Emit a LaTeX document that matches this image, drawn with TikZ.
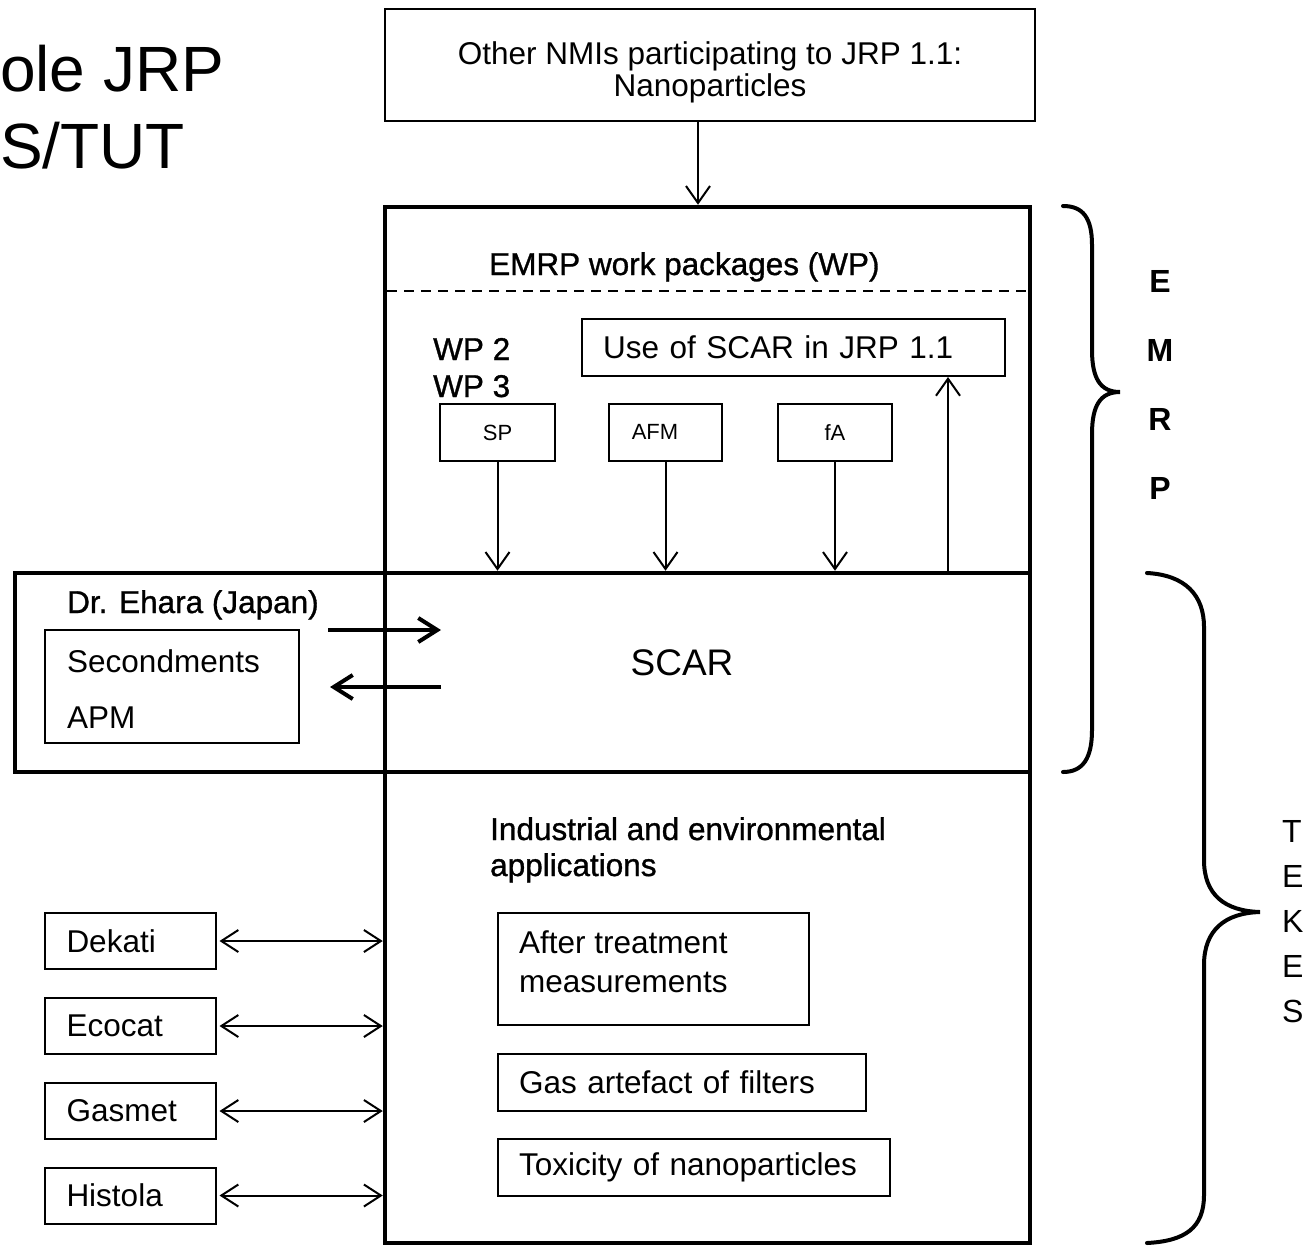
\documentclass[tikz,border=0pt]{standalone}
\usepackage{fontspec}
\setmainfont{Liberation Sans}
\newfontfamily\heavyfont[FakeBold=1]{Liberation Sans}
\usetikzlibrary{arrows.meta}
\begin{document}
\begin{tikzpicture}[x=1pt,y=-1pt,
  thinbox/.style={draw,line width=2pt,inner sep=0pt},
  thickbox/.style={draw,line width=4.5pt,inner sep=0pt},
  body/.style={font=\fontsize{31.5}{37}\selectfont},
  heavy/.style={font=\heavyfont\fontsize{31.5}{37}\selectfont},
  lbl/.style={inner sep=0pt,anchor=base west},
  leftbox/.style={thinbox,body,align=left,text width=#1,inner xsep=21pt},
  arr/.style={line width=2pt,-{Straight Barb[length=17pt,width=24pt,line width=2pt]}},
  dblarr/.style={line width=2pt,{Straight Barb[length=17pt,width=22pt,line width=2pt]}-{Straight Barb[length=17pt,width=22pt,line width=2pt]}},
  fatarr/.style={line width=4.5pt,-{Straight Barb[length=19pt,width=24pt,line width=4pt]}},
  brace/.style={line width=4pt,line cap=round}
]
\useasboundingbox (0,0) rectangle (1308,1253);

% title
\node[lbl,font=\fontsize{64}{77}\selectfont] (t1) at (0,91) {ole JRP};
\node[lbl,font=\fontsize{64}{77}\selectfont] (t2) at (0,168) {S/TUT};

% top box
\node[thinbox,minimum width=650pt,minimum height=112pt] (nmi) at (710,65) {};
\node[inner sep=0pt,body,align=center] (nmit) at (710,72)
  {Other NMIs participating to JRP 1.1:\\[-5pt]Nanoparticles};

% main box
\node[thickbox,minimum width=645pt,minimum height=1036pt] (main) at (707.5,725) {};
\draw[arr] ([xshift=-12pt]nmi.south) -- ([xshift=-12pt]nmi.south |- main.north);

% dashed separator
\draw[line width=2pt,dash pattern=on 10pt off 7pt] (387,291) -- (1028,291);
\node[lbl,heavy] (emrpwp) at (489,275) {EMRP work packages (WP)};
\node[lbl,heavy] (wp2) at (433,360) {WP 2};
\node[lbl,heavy] (wp3) at (433,397) {WP 3};

\node[leftbox=381pt,minimum width=423pt,minimum height=57pt] (use) at (793.5,347.5) {Use of SCAR in JRP 1.1};

\node[thinbox,font=\fontsize{22}{26}\selectfont,minimum width=115pt,minimum height=57pt] (sp) at (497.5,432.5) {SP};
\node[thinbox,minimum width=113pt,minimum height=57pt] (afm) at (665.5,432.5) {};
\node[inner sep=0pt,font=\fontsize{22}{26}\selectfont] (afmt) at (655,432) {AFM};
\node[thinbox,font=\fontsize{22}{26}\selectfont,minimum width=114pt,minimum height=57pt] (fa) at (835,432.5) {fA};

% SCAR band
\node[thickbox,minimum width=1015pt,minimum height=199pt] (band) at (522.5,672.5) {};
\node[inner sep=0pt,font=\fontsize{37}{44}\selectfont] (scar) at (682,663) {SCAR};

\draw[arr] (sp.south) -- (sp.south |- band.north);
\draw[arr] (afm.south) -- (afm.south |- band.north);
\draw[arr] (fa.south) -- (fa.south |- band.north);
\coordinate (upx) at (948,0);
\draw[arr] (upx |- band.north) -- (upx |- use.south);

% Dr. Ehara
\node[lbl,heavy] (ehara) at (67,613) {Dr. Ehara (Japan)};
\node[thinbox,minimum width=254pt,minimum height=113pt] (sec) at (172,686.5) {};
\node[lbl,body] (sect) at (67,672) {Secondments};
\node[lbl,body] (apmt) at (67,728) {APM};
\coordinate (ea1) at (328,630);
\coordinate (eb1) at (441,630);
\coordinate (ea2) at (441,687);
\coordinate (eb2) at (330,687);
\draw[fatarr] (ea1) -- (eb1);
\draw[fatarr] (ea2) -- (eb2);

% applications
\node[lbl,heavy] (ind1) at (490,840) {Industrial and environmental};
\node[lbl,heavy] (ind2) at (490,876) {applications};
\node[thinbox,minimum width=311pt,minimum height=112pt] (after) at (653.5,969) {};
\node[lbl,body] (aft1) at (519,953) {After treatment};
\node[lbl,body] (aft2) at (519,992) {measurements};
\node[leftbox=326pt,minimum width=368pt,minimum height=57pt] (gas) at (682,1082.5) {Gas artefact of filters};
\node[leftbox=350pt,minimum width=392pt,minimum height=57pt] (tox) at (694,1167.5) {Toxicity of nanoparticles};

% companies
\node[leftbox=127pt,minimum width=170pt,minimum height=56pt,inner xsep=22pt] (dek) at (130,941) {Dekati};
\node[leftbox=127pt,minimum width=170pt,minimum height=56pt,inner xsep=22pt] (eco) at (130,1026) {Ecocat};
\node[leftbox=127pt,minimum width=170pt,minimum height=56pt,inner xsep=22pt] (gsm) at (130,1111) {Gasmet};
\node[leftbox=127pt,minimum width=170pt,minimum height=56pt,inner xsep=22pt] (his) at (130,1195.5) {Histola};
\foreach \c in {dek,eco,gsm,his}
  \draw[dblarr,shorten <=3pt] (\c.east) -- (\c.east -| main.west);

% braces
\draw[brace] (1063,206) .. controls (1083,206) and (1092,218) .. (1092,245) -- (1092,350)
  .. controls (1092,378) and (1100,392) .. (1120,392)
  .. controls (1100,392) and (1092,406) .. (1092,434) -- (1092,730)
  .. controls (1092,758) and (1083,772) .. (1063,772);
\draw[brace] (1147,573) .. controls (1185,575) and (1204,595) .. (1204,627) -- (1204,860)
  .. controls (1204,895) and (1225,911) .. (1260,912)
  .. controls (1225,913) and (1204,930) .. (1204,965) -- (1204,1195)
  .. controls (1204,1228) and (1185,1241) .. (1147,1243);

\node[inner sep=0pt,align=center,font=\bfseries\fontsize{32}{68.7}\selectfont] (emrp) at (1160,385) {E\\M\\R\\P};
\node[inner sep=0pt,align=left,anchor=west,font=\fontsize{32}{45}\selectfont] (tekes) at (1282,922) {T\\E\\K\\E\\S};
\end{tikzpicture}
\end{document}
